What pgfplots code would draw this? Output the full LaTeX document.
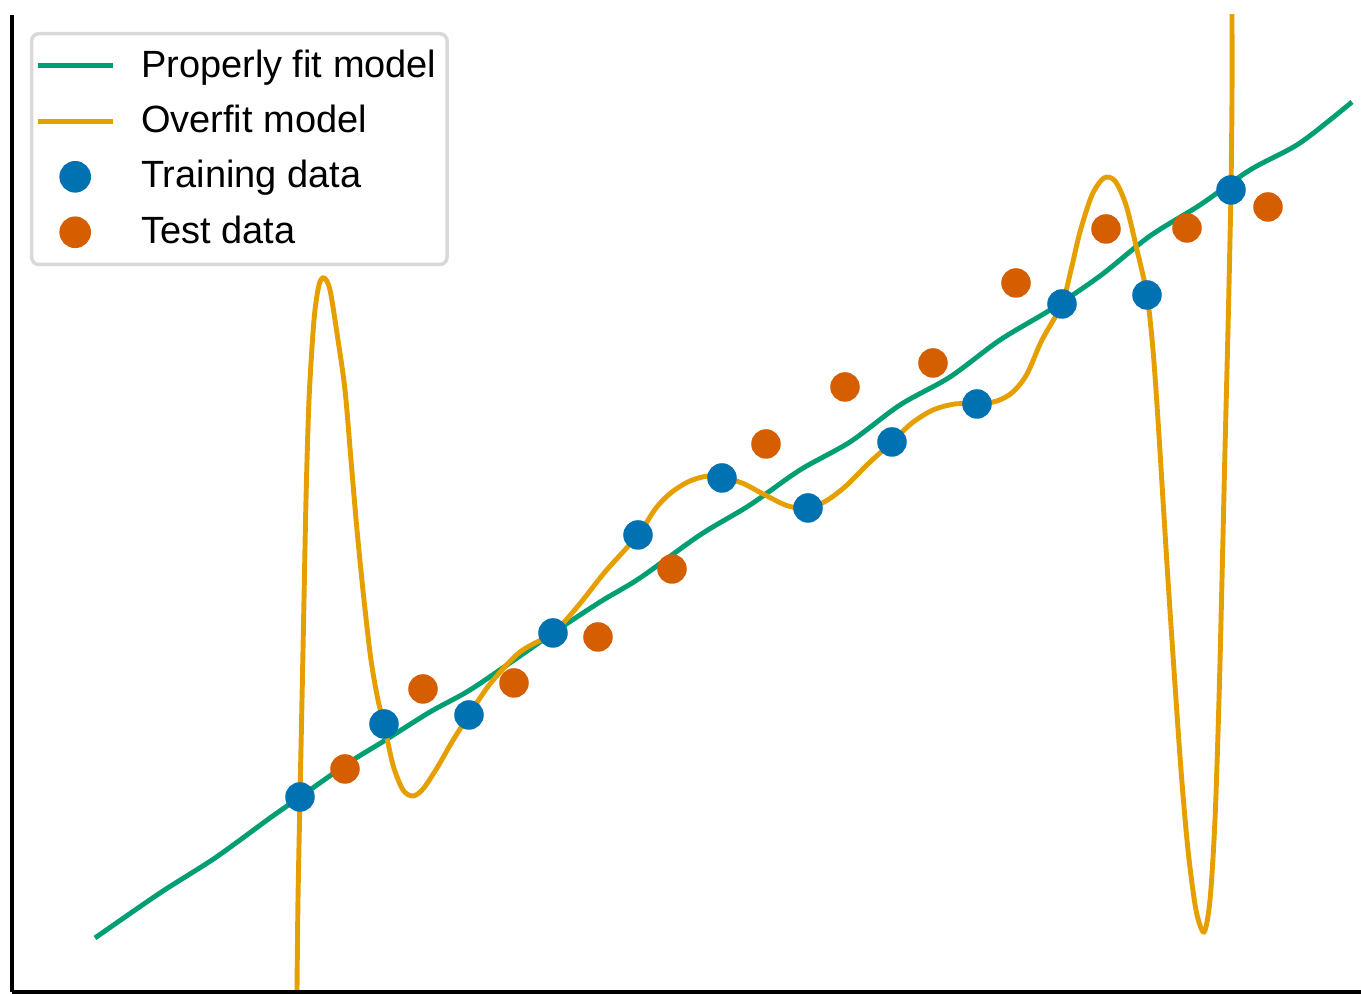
\documentclass[border=0pt]{standalone}
\usepackage{fontspec}
\setmainfont{Liberation Sans}
\usepackage{pgfplots}
\pgfplotsset{compat=1.18}
\definecolor{fitgreen}{RGB}{0,158,115}
\definecolor{overorange}{RGB}{230,159,0}
\definecolor{trainblue}{RGB}{0,114,178}
\definecolor{testorange}{RGB}{213,94,0}
\begin{document}
\begin{tikzpicture}
\useasboundingbox (-0.12cm,-0.02cm) rectangle (13.49cm,9.92cm);
\begin{axis}[
    at={(0,0)}, anchor=origin,
    scale only axis,
    width=13.49cm, height=9.77cm,
    xmin=12, xmax=1361, ymin=2, ymax=979,
    axis x line=bottom, axis y line=left,
    axis line style={-, line width=1.3pt, black},
    xtick=\empty, ytick=\empty,
    clip=true,
    legend style={
        at={(0.0133,0.9826)}, anchor=north west,
        draw=black!15, line width=1pt, rounded corners=2pt, fill=white,
        font=\fontsize{10.8}{13}\selectfont,
        inner xsep=1pt, inner ysep=2.5pt,
        row sep=2.45pt, column sep=5.4pt,
        cells={anchor=west},
        nodes={inner sep=2pt},
    },
    legend image code/.code={
        \draw[#1, mark repeat=2, mark phase=2] plot coordinates {(0cm,0cm) (0.375cm,0cm) (0.75cm,0cm)};
    },
]
\addplot[fitgreen, line width=1.4pt, smooth] coordinates {
(95,56) (160,101) (215,136) (270,176) (300,197) (350,232) (384,253) (430,282)
(470,304) (520,338) (553,361) (600,392) (640,416) (700,459) (750,489) (800,524)
(850,552) (900,589) (950,617) (1000,654) (1050,684) (1100,718) (1150,758)
(1200,789) (1250,824) (1300,851) (1352,892)
};
\addlegendentry{Properly fit model}
\addplot[overorange, line width=1.4pt, smooth] coordinates {
(297,4) (298,94) (300,197) (302,294) (304,394) (306,494) (309,594) (314,674)
(319,709) (324,716) (330,704) (338,654) (345,604) (351,534) (357,464) (364,394)
(371,334) (378,294) (384,270) (393,229) (403,204) (413,198) (423,205) (437,226)
(452,252) (469,279) (490,310) (520,342) (553,361) (578,388) (605,422) (638,459)
(656,486) (672,502) (690,513) (708,518) (722,516) (742,511) (765,499) (788,488)
(808,486) (826,493) (846,508) (868,530) (892,552) (912,571) (933,584) (955,590)
(977,590) (997,593) (1013,602) (1027,620) (1042,654) (1062,690) (1071,724)
(1080,762) (1092,799) (1104,816) (1115,813) (1126,789) (1137,744) (1147,699)
(1153,644) (1158,574) (1163,494) (1168,414) (1174,324) (1181,224) (1188,144)
(1196,84) (1204,62) (1210,94) (1215,174) (1219,294) (1222,414) (1225,544)
(1228,664) (1230,754) (1231,804) (1232,894) (1232,985)
};
\addlegendentry{Overfit model}
\addplot[only marks, mark=*, mark size=4pt, color=trainblue] coordinates {
(300,197) (384,270) (469,279) (553,361) (638,459) (722,516) (808,486) (892,552)
(977,590) (1062,690) (1147,699) (1231,804)
};
\addlegendentry{Training data}
\addplot[only marks, mark=*, mark size=4pt, color=testorange] coordinates {
(345,225) (423,305) (514,311) (598,357) (672,425) (766,550) (845,607) (933,631)
(1016,711) (1106,765) (1187,766) (1268,787)
};
\addlegendentry{Test data}
\end{axis}
\end{tikzpicture}
\end{document}
